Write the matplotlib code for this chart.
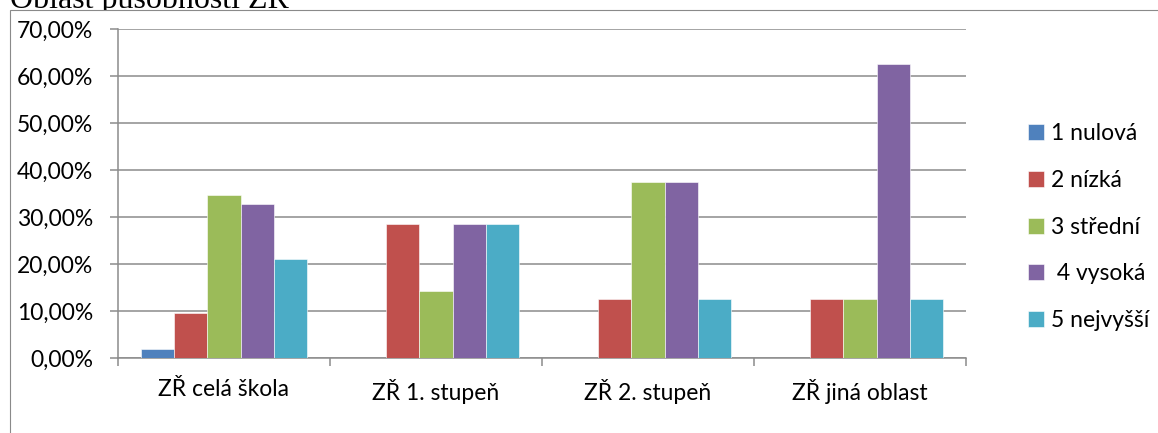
import numpy as np
import matplotlib.pyplot as plt
from matplotlib.patches import Rectangle

categories = ['ZŘ celá škola', 'ZŘ 1. stupeň', 'ZŘ 2. stupeň', 'ZŘ jiná oblast']
series_names = ['1 nulová', '2 nízká', '3 střední', ' 4 vysoká', '5 nejvyšší']
nulova = [1.92, 0.0, 0.0, 0.0]
nizka = [9.62, 28.57, 12.50, 12.50]
stredni = [34.62, 14.29, 37.50, 12.50]
vysoka = [32.69, 28.57, 37.50, 62.50]
nejvyssi = [21.15, 28.57, 12.50, 12.50]
yticks = [0, 10, 20, 30, 40, 50, 60, 70]

series = [nulova, nizka, stredni, vysoka, nejvyssi]
colors = ['#4F81BD', '#C0504D', '#9BBB59', '#8064A2', '#4BACC6']
grey = '#8c8c8c'

plt.rcParams['font.family'] = ['Lato', 'DejaVu Sans']

fig = plt.figure(figsize=(11.58, 4.33), dpi=100)

# caption text of the document, mostly hidden behind the chart frame
fig.text(10 / 1158, 1 - 8 / 433, 'Oblast působnosti ZŘ', family='Liberation Serif',
         fontsize=23, va='baseline', ha='left', zorder=1)
frame = Rectangle((10 / 1158, -0.1), 1.2, 1 - 10 / 433 + 0.1, transform=fig.transFigure,
                  facecolor='white', edgecolor='#8a8a8a', linewidth=0.8, zorder=2)
fig.add_artist(frame)

ax = fig.add_axes([118 / 1158, 75 / 433, 848 / 1158, 329 / 433])
ax.set_zorder(5)
ax.patch.set_alpha(0)

x = np.arange(len(categories)) + 0.5
w = 0.156
for i, (vals, name, c) in enumerate(zip(series, series_names, colors)):
    ax.bar(x + (i - 2) * w, vals, width=w, color=c, edgecolor='white', linewidth=0.4,
           label=name, zorder=3)

ax.set_xlim(0, len(categories))
ax.set_ylim(0, 70)
ax.set_yticks(yticks)
ax.set_yticklabels([f'{v:.2f}%'.replace('.', ',') for v in yticks])
ax.set_xticks(np.arange(len(categories) + 1))
ax.set_xticklabels([])
ax.set_xticks(x, minor=True)
ax.set_xticklabels(categories, minor=True)
ax.tick_params(axis='x', which='minor', length=0, pad=15, labelsize=16.5)
ax.tick_params(axis='x', which='major', length=6, width=1.1, color=grey)
ax.tick_params(axis='y', length=6, width=1.1, color=grey, pad=12, labelsize=16.5)

ax.grid(axis='y', color=grey, linewidth=1.1, zorder=0)
for s in ['top', 'right']:
    ax.spines[s].set_visible(False)
for s in ['left', 'bottom']:
    ax.spines[s].set_color(grey)
    ax.spines[s].set_linewidth(1.1)

ax.legend(loc='center left', bbox_to_anchor=(1.049, 0.398), frameon=False, fontsize=16.5,
          handlelength=0.7, handleheight=0.7, handletextpad=0.3, labelspacing=1.12)

fig.savefig('out.png', dpi=100)
